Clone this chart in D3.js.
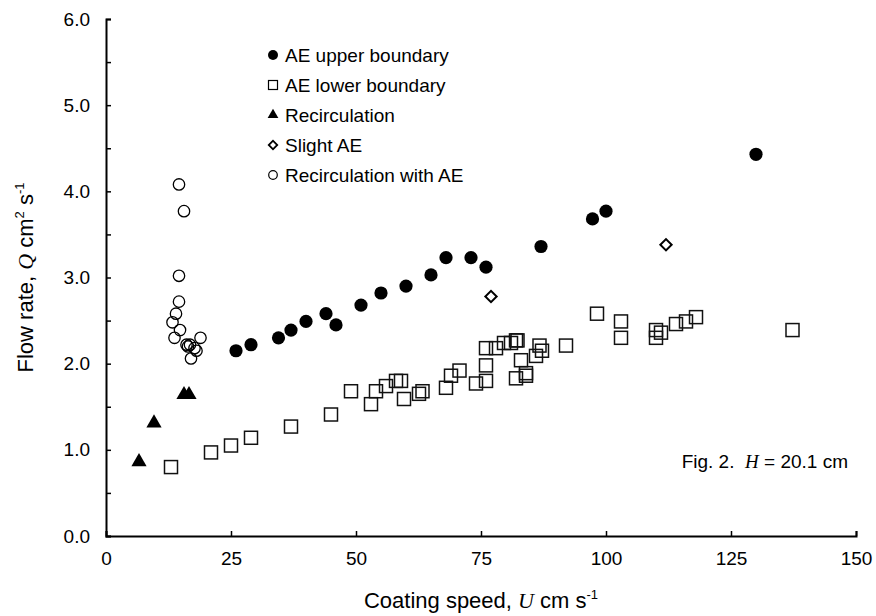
<!DOCTYPE html>
<html>
<head>
<meta charset="utf-8">
<script src="https://cdn.jsdelivr.net/npm/d3@7"></script>
<style>
  body { margin: 0; background: #fff; }
  svg text { font-family: "Liberation Sans", Arial, sans-serif; fill: #000; }
</style>
</head>
<body>
<div id="chart"></div>
<script>
// AE upper boundary (filled circles)
const upperU = [26, 29, 34.5, 37, 40, 44, 46, 51, 55, 60, 65, 68, 73, 76, 87, 97.3, 100, 130];
const upperQ = [2.15, 2.22, 2.30, 2.39, 2.49, 2.58, 2.45, 2.68, 2.82, 2.90, 3.03, 3.23, 3.23, 3.12, 3.36, 3.68, 3.77, 4.43];

// AE lower boundary (open squares)
const lowerU = [13, 21, 25, 29, 37, 45, 49, 53, 54, 56, 58, 59, 59.6, 62.6, 63.3, 68, 69, 70.7, 74, 76, 76, 76, 78, 79.6, 81, 82, 82.3, 83, 82, 84, 84, 86, 86.7, 87.2, 92, 98.2, 103, 103, 110, 110, 111, 114, 116, 118, 137.3];
const lowerQ = [0.80, 0.97, 1.05, 1.14, 1.27, 1.41, 1.68, 1.53, 1.68, 1.74, 1.80, 1.80, 1.59, 1.65, 1.68, 1.72, 1.86, 1.92, 1.77, 1.80, 1.98, 2.18, 2.18, 2.24, 2.24, 2.27, 2.27, 2.04, 1.83, 1.89, 1.86, 2.09, 2.21, 2.15, 2.21, 2.58, 2.49, 2.30, 2.39, 2.30, 2.36, 2.46, 2.49, 2.54, 2.39];

// Recirculation (filled triangles)
const recircU = [6.6, 9.6, 15.6, 16.6];
const recircQ = [0.86, 1.31, 1.64, 1.64];

// Slight AE (open diamonds)
const slightU = [77, 112];
const slightQ = [2.78, 3.38];

// Recirculation with AE (open circles)
const recAEU = [14.6, 15.6, 14.6, 14.6, 14, 13.3, 14.8, 13.7, 18.9, 16.1, 16.8, 17.7, 18.1, 17, 16.4];
const recAEQ = [4.08, 3.77, 3.02, 2.72, 2.58, 2.48, 2.39, 2.30, 2.30, 2.22, 2.22, 2.18, 2.15, 2.06, 2.20];

const xTicks = [0, 25, 50, 75, 100, 125, 150];
const yTicks = [0, 1, 2, 3, 4, 5, 6];
const yMinor = [0.5, 1.5, 2.5, 3.5, 4.5, 5.5];

const legendLabels = ["AE upper boundary", "AE lower boundary", "Recirculation", "Slight AE", "Recirculation with AE"];

const W = 876, H = 616;
const margin = { top: 19, right: 20, bottom: 80, left: 106 };
const width = W - margin.left - margin.right;   // 750
const height = H - margin.top - margin.bottom;  // 517

const svg = d3.select("#chart").append("svg")
  .attr("width", W).attr("height", H);
const g = svg.append("g").attr("transform", `translate(${margin.left},${margin.top})`);

const x = d3.scaleLinear().domain([0, 150]).range([0, width]);
const y = d3.scaleLinear().domain([0, 6]).range([height, 0]);

// axes
const xAxis = g.append("g")
  .attr("transform", `translate(0,${height})`)
  .call(d3.axisBottom(x).tickValues(xTicks).tickSize(-5).tickPadding(16).tickFormat(d3.format("d")));
const yAxis = g.append("g")
  .call(d3.axisLeft(y).tickValues(yTicks).tickSize(-5).tickPadding(16).tickFormat(d3.format(".1f")));
g.append("g")
  .call(d3.axisLeft(y).tickValues(yMinor).tickSize(-5).tickFormat(""))
  .select(".domain").remove();

[xAxis, yAxis].forEach(a => {
  a.select(".domain").attr("stroke", "#000").attr("stroke-width", 2);
  a.selectAll("text").style("font-size", "19px").attr("fill", "#000");
});
g.selectAll(".tick line").attr("stroke", "#000").attr("stroke-width", 1.5);

// markers
const pts = (us, qs) => us.map((u, i) => ({ u, q: qs[i] }));

g.selectAll(".sq").data(pts(lowerU, lowerQ)).join("rect")
  .attr("x", d => x(d.u) - 6.5).attr("y", d => y(d.q) - 6.5)
  .attr("width", 13).attr("height", 13)
  .attr("fill", "none").attr("stroke", "#111").attr("stroke-width", 1.5);

g.selectAll(".oc").data(pts(recAEU, recAEQ)).join("circle")
  .attr("cx", d => x(d.u)).attr("cy", d => y(d.q)).attr("r", 5.7)
  .attr("fill", "none").attr("stroke", "#000").attr("stroke-width", 1.3);

g.selectAll(".fc").data(pts(upperU, upperQ)).join("circle")
  .attr("cx", d => x(d.u)).attr("cy", d => y(d.q)).attr("r", 6.6)
  .attr("fill", "#000");

const tri = d3.symbol().type(d3.symbolTriangle).size(100);
g.selectAll(".tr").data(pts(recircU, recircQ)).join("path")
  .attr("d", tri)
  .attr("transform", d => `translate(${x(d.u)},${y(d.q)})`)
  .attr("fill", "#000");

const dia = d3.symbol().type(d3.symbolSquare).size(64);
g.selectAll(".di").data(pts(slightU, slightQ)).join("path")
  .attr("d", dia)
  .attr("transform", d => `translate(${x(d.u)},${y(d.q)}) rotate(45)`)
  .attr("fill", "none").attr("stroke", "#000").attr("stroke-width", 2);

// legend
const leg = svg.append("g").attr("transform", "translate(273,55)");
const rowH = 30;
legendLabels.forEach((lab, i) => {
  const row = leg.append("g").attr("transform", `translate(0,${i * rowH})`);
  if (i === 0) row.append("circle").attr("r", 5).attr("fill", "#000");
  if (i === 1) row.append("rect").attr("x", -4.5).attr("y", -4.5).attr("width", 9).attr("height", 9)
    .attr("fill", "none").attr("stroke", "#000").attr("stroke-width", 1.2);
  if (i === 2) row.append("path").attr("d", d3.symbol().type(d3.symbolTriangle).size(50)).attr("fill", "#000");
  if (i === 3) row.append("path").attr("d", d3.symbol().type(d3.symbolSquare).size(36))
    .attr("transform", "rotate(45)").attr("fill", "none").attr("stroke", "#000").attr("stroke-width", 1.8);
  if (i === 4) row.append("circle").attr("r", 4.3).attr("fill", "none").attr("stroke", "#000").attr("stroke-width", 1.2);
  row.append("text").attr("x", 12).attr("y", 7).style("font-size", "19px").text(lab);
});

// axis titles
const xt = svg.append("text")
  .attr("x", margin.left + width / 2).attr("y", 608)
  .attr("text-anchor", "middle").style("font-size", "22px");
xt.append("tspan").text("Coating speed, ");
xt.append("tspan").style("font-family", "'Liberation Serif', serif").style("font-style", "italic").text("U");
xt.append("tspan").text(" cm s");
xt.append("tspan").attr("dy", -9).style("font-size", "13px").text("-1");

const yt = svg.append("text")
  .attr("transform", `translate(33,${margin.top + height / 2}) rotate(-90)`)
  .attr("text-anchor", "middle").style("font-size", "22px");
yt.append("tspan").text("Flow rate, ");
yt.append("tspan").style("font-family", "'Liberation Serif', serif").style("font-style", "italic").text("Q");
yt.append("tspan").text(" cm");
yt.append("tspan").attr("dy", -9).style("font-size", "13px").text("2");
yt.append("tspan").attr("dy", 9).text(" s");
yt.append("tspan").attr("dy", -9).style("font-size", "13px").text("-1");

// figure note
const note = svg.append("text")
  .attr("x", 848).attr("y", 468)
  .attr("text-anchor", "end").style("font-size", "19px")
  .style("white-space", "pre");
note.append("tspan").text("Fig. 2.  ");
note.append("tspan").style("font-family", "'Liberation Serif', serif").style("font-style", "italic").text("H");
note.append("tspan").text(" = 20.1 cm");
</script>
</body>
</html>
